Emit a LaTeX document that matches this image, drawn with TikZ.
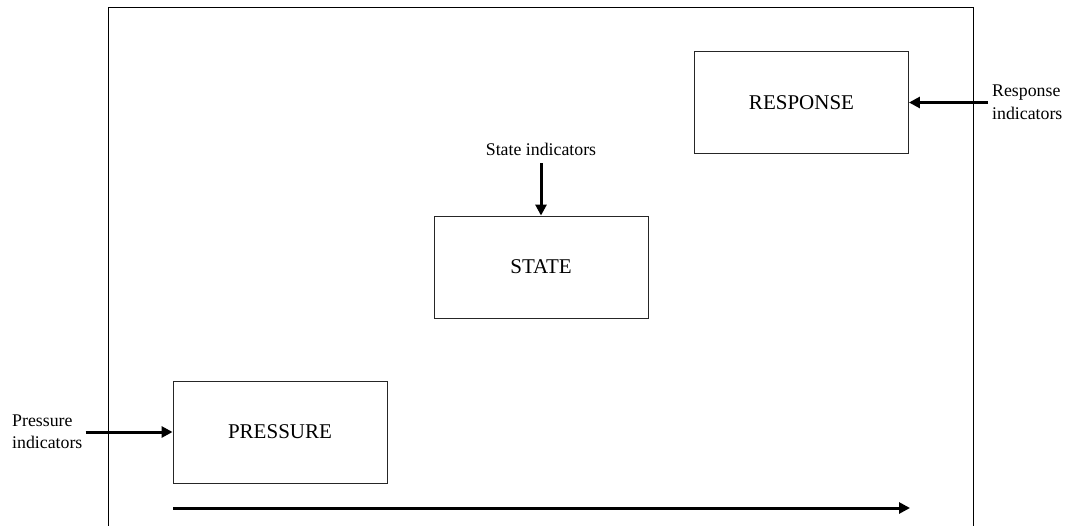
\documentclass[tikz,border=0pt]{standalone}
\usepackage{fontspec}
\setmainfont{Liberation Serif}
\usetikzlibrary{arrows.meta}
\begin{document}
\begin{tikzpicture}[x=1pt,y=-1pt,
  stagebox/.style={draw=black!85,line width=0.9pt,minimum width=214pt,minimum height=102pt,
    inner sep=0pt,font=\fontsize{21}{25}\selectfont},
  indlabel/.style={inner sep=0pt,align=left,font=\fontsize{17.8}{22.5}\selectfont},
  indarrow/.style={line width=3pt,-{Triangle[length=11pt,width=11pt]}}]
\useasboundingbox (0,0) rectangle (1068,525);
\clip (0,0) rectangle (1068,525);
% outer frame (its lower edge runs past the page)
\draw[line width=1pt] (108,540) -- (108,7) -- (973,7) -- (973,540);
% the three stages
\node[stagebox] (pbox) at (280,432) {PRESSURE};
\node[stagebox] (sbox) at (541,267) {STATE};
\node[stagebox] (rbox) at (801.5,102.5) {RESPONSE};
% indicator labels
\node[indlabel,anchor=west] (plab) at (12,432) {Pressure\\indicators};
\node[indlabel,anchor=south] (slab) at (541,156) {State indicators};
\node[indlabel,anchor=west] (rlab) at (992,102.5) {Response\\indicators};
% indicator arrows
\draw[indarrow] ([xshift=3pt]plab.east) -- (pbox.west);
\draw[indarrow] ([yshift=-7pt]slab.south) -- (sbox.north);
\draw[indarrow] ([xshift=-4pt]rlab.west) -- (rbox.east);
% time axis
\coordinate (tstart) at (173,508);
\coordinate (tend) at (910,508);
\draw[indarrow] (tstart) -- (tend);
\end{tikzpicture}
\end{document}
